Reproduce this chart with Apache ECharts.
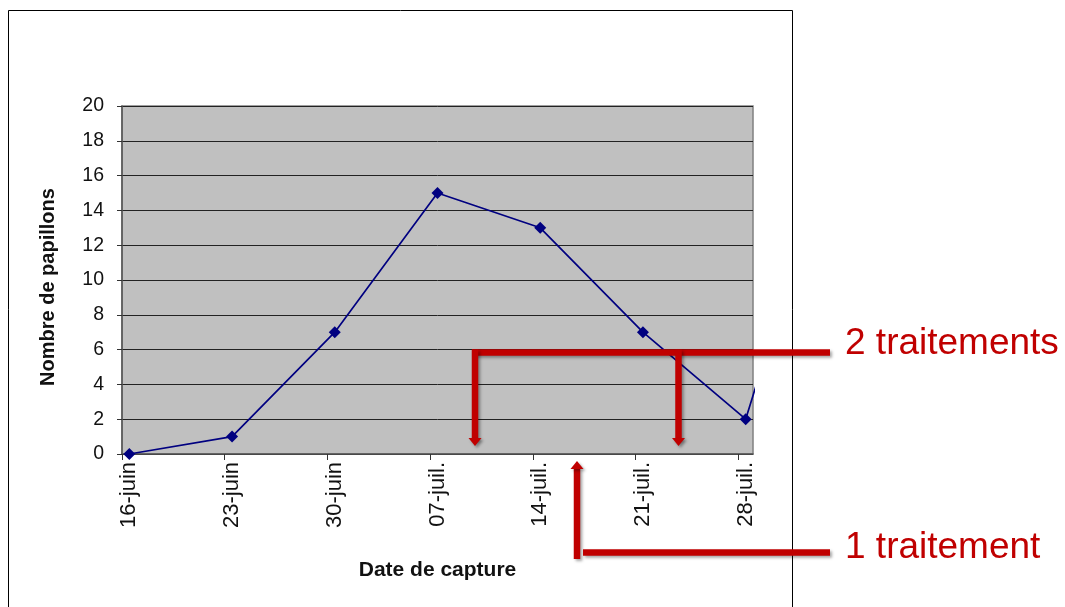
<!DOCTYPE html>
<html>
<head>
<meta charset="utf-8">
<script src="https://cdn.jsdelivr.net/npm/echarts@6/dist/echarts.min.js"></script>
<style>
  html, body { margin: 0; padding: 0; background: #fff; }
  #chart { width: 1065px; height: 607px; }
</style>
</head>
<body>
<div id="chart"></div>
<script>
// Capture dates, as days counted from 16 June
const captureDays = [0, 7, 14, 21, 28, 35, 42, 49];
const captureLabels = ['16-juin', '23-juin', '30-juin', '07-juil.', '14-juil.', '21-juil.', '28-juil.', '04-août'];
// Number of butterflies caught on each date
const butterflies = [0, 1, 7, 15, 13, 7, 2, 21];
// Y-axis ticks
const yTicks = [0, 2, 4, 6, 8, 10, 12, 14, 16, 18, 20];
// Tick marks sit half a day before each capture date
const xTickDays = [-0.5, 6.5, 13.5, 20.5, 27.5, 34.5, 41.5];

const RED = '#C00000';
const FONT = '"Liberation Sans", Arial, sans-serif';

const chart = echarts.init(document.getElementById('chart'), null, { renderer: 'canvas' });

const labelByDay = {};
captureDays.forEach((d, i) => { labelByDay[d] = captureLabels[i]; });

const shadow = { shadowBlur: 3, shadowOffsetX: 2, shadowOffsetY: 2, shadowColor: 'rgba(0,0,0,0.35)' };

function bar(x1, y1, x2, y2) {
  return { type: 'line', z: 100, shape: { x1, y1, x2, y2 },
    style: Object.assign({ stroke: RED, lineWidth: 6.5 }, shadow) };
}
function head(x, tipY, dir) {
  const h = 8 * dir;
  return { type: 'polygon', z: 101,
    shape: { points: [[x - 6.5, tipY - h], [x + 6.5, tipY - h], [x, tipY]] },
    style: Object.assign({ fill: RED }, shadow) };
}

chart.setOption({
  animation: false,
  backgroundColor: '#fff',
  grid: { left: 122, right: 312, top: 106, bottom: 153, show: true,
    backgroundColor: '#C0C0C0', borderColor: '#808080', borderWidth: 1.5 },
  xAxis: {
    type: 'value', min: -0.5, max: 42.5,
    name: 'Date de capture', nameLocation: 'middle', nameGap: 106,
    nameTextStyle: { fontFamily: FONT, fontWeight: 'bold', fontSize: 21, color: '#111' },
    axisLine: { show: true, onZero: false, lineStyle: { color: '#555', width: 1.5 } },
    axisTick: { show: true, length: 6, customValues: xTickDays, lineStyle: { color: '#333' } },
    axisLabel: { rotate: 90, margin: 8, fontFamily: FONT, fontSize: 22, color: '#111',
      customValues: captureDays.slice(0, 7),
      formatter: v => labelByDay[v] || '' },
    splitLine: { show: false }
  },
  yAxis: {
    type: 'value', min: yTicks[0], max: yTicks[yTicks.length - 1], interval: 2,
    name: 'Nombre de papillons', nameLocation: 'middle', nameGap: 64,
    nameTextStyle: { fontFamily: FONT, fontWeight: 'bold', fontSize: 20, color: '#111',
      padding: [0, 14, 0, 0] },
    axisLine: { show: true, onZero: false, lineStyle: { color: '#555', width: 1.5 } },
    axisTick: { show: true, length: 5, lineStyle: { color: '#333' } },
    axisLabel: { margin: 18, fontFamily: FONT, fontSize: 19.5, color: '#111' },
    splitLine: { show: true, lineStyle: { color: '#222', width: 1 } }
  },
  series: [{
    type: 'line',
    data: captureDays.map((d, i) => [d, butterflies[i]]),
    clip: true,
    symbol: 'diamond', symbolSize: 12,
    lineStyle: { color: '#000080', width: 1.7 },
    itemStyle: { color: '#000080' },
    z: 5
  }],
  graphic: [
    // chart area frame
    { type: 'rect', z: 0, shape: { x: 8.5, y: 10.5, width: 784, height: 610 },
      style: { fill: null, stroke: '#000', lineWidth: 1 } },
    // "2 traitements" bracket
    bar(472, 352.5, 830, 352.5),
    bar(475, 349.5, 475, 440),
    head(475, 446, 1),
    bar(678.5, 349.5, 678.5, 440),
    head(678.5, 446, 1),
    { type: 'text', z: 102, left: 845, top: 325,
      style: { text: '2 traitements', fill: RED, font: '37px ' + FONT } },
    // "1 traitement" bracket
    bar(577, 468, 577, 559),
    head(577, 461, -1),
    bar(583, 552.5, 830, 552.5),
    { type: 'text', z: 102, left: 845, top: 529,
      style: { text: '1 traitement', fill: RED, font: '37px ' + FONT } }
  ]
});
</script>
</body>
</html>
